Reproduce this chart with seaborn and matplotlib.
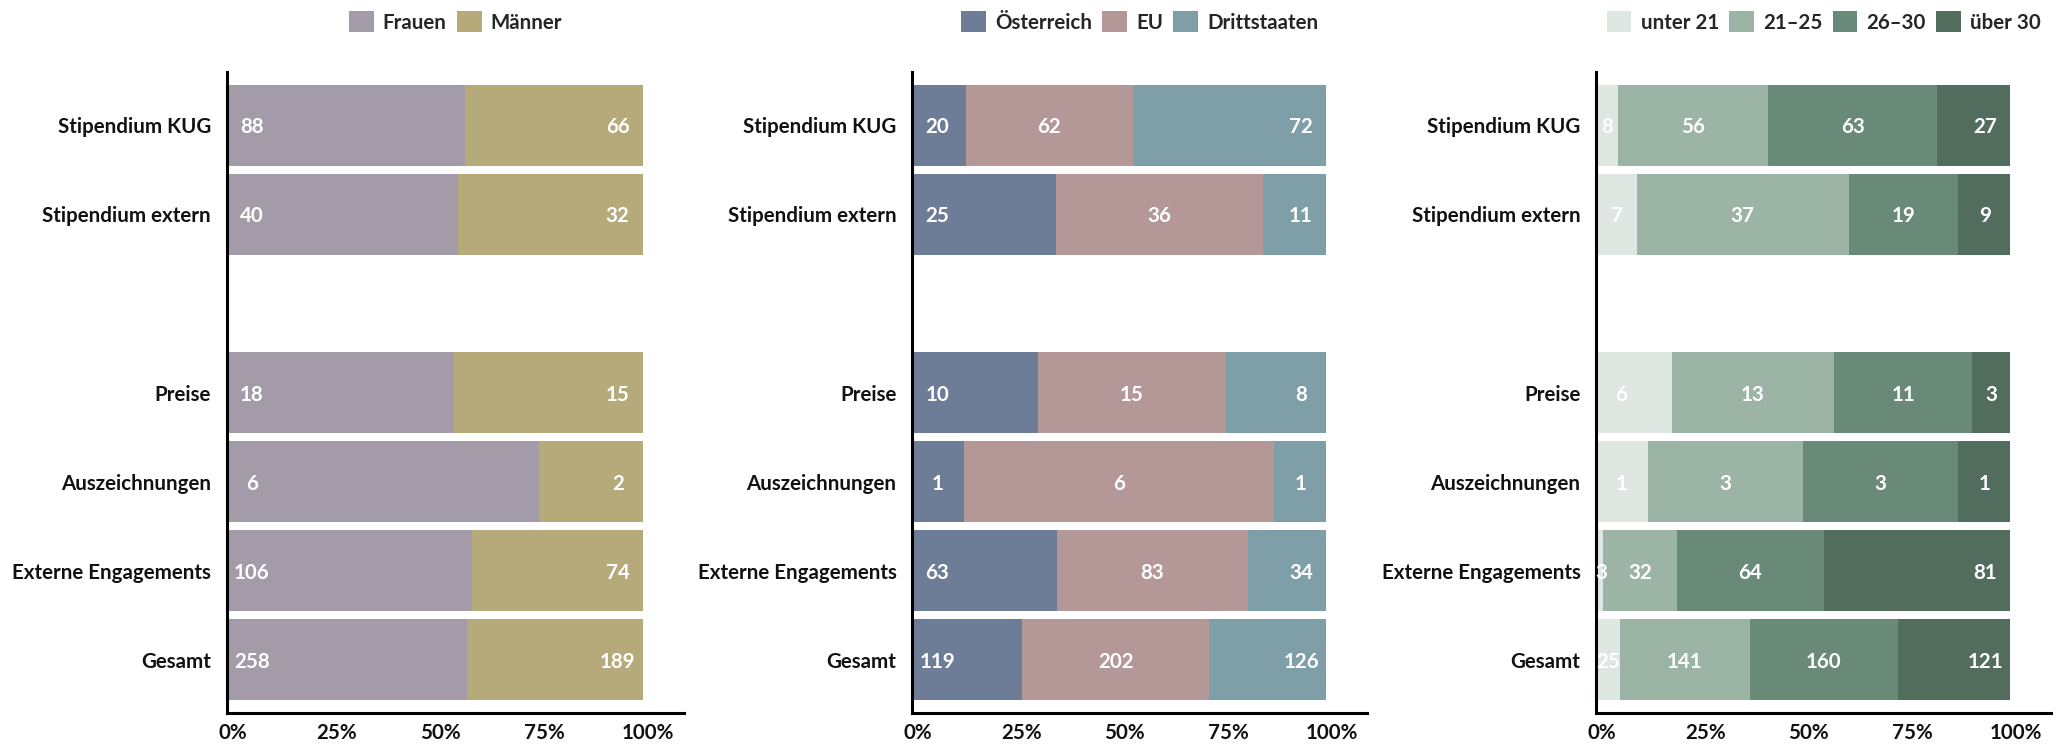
import numpy as np
import pandas as pd
import matplotlib
matplotlib.use("Agg")
import matplotlib.pyplot as plt
import seaborn as sns
from matplotlib.patches import Patch
from matplotlib.transforms import ScaledTranslation

# ---------------- data ----------------
categories = ["Stipendium KUG", "Stipendium extern", "Preise", "Auszeichnungen",
              "Externe Engagements", "Gesamt"]
row_order = ["Stipendium KUG", "Stipendium extern", " ", "Preise", "Auszeichnungen",
             "Externe Engagements", "Gesamt"]

gender_labels = ["Frauen", "Männer"]
frauen = [88, 40, 18, 6, 106, 258]
maenner = [66, 32, 15, 2, 74, 189]

origin_labels = ["Österreich", "EU", "Drittstaaten"]
oesterreich = [20, 25, 10, 1, 63, 119]
eu = [62, 36, 15, 6, 83, 202]
drittstaaten = [72, 11, 8, 1, 34, 126]

age_labels = ["unter 21", "21–25", "26–30", "über 30"]
unter21 = [8, 7, 6, 1, 3, 25]
a21_25 = [56, 37, 13, 3, 32, 141]
a26_30 = [63, 19, 11, 3, 64, 160]
ueber30 = [27, 9, 3, 1, 81, 121]

tick_vals = [0, 0.25, 0.5, 0.75, 1.0]
tick_labels = ["0%", "25%", "50%", "75%", "100%"]

gender_colors = ["#a39ca8", "#b6aa7b"]
origin_colors = ["#6d7c97", "#b49797", "#7f9fa8"]
age_colors = ["#dee7e2", "#9cb4a6", "#698a79", "#526c5e"]

# ---------------- style ----------------
sns.set_theme(style="white")
plt.rcParams["font.family"] = ["Lato", "DejaVu Sans"]
FS = 14.8
WEIGHT = "bold"

fig = plt.figure(figsize=(20.69, 7.46), dpi=100)

lefts = [0.1097, 0.4410, 0.7716]
widths = [0.2210, 0.2198, 0.2198]
B = 0.0442
H = 0.8593


def draw_panel(left, width, series, labels, colors):
    ax = fig.add_axes([left, B, width, H])
    counts = np.array(series, dtype=float)
    totals = counts.sum(axis=0)
    shares = counts / totals
    ends = np.cumsum(shares, axis=0)
    starts = ends - shares
    k = len(series)
    for i in range(k - 1, -1, -1):
        df = pd.DataFrame({"cat": categories, "end": ends[i]})
        sns.barplot(data=df, x="end", y="cat", order=row_order, orient="h",
                    color=colors[i], saturation=1, errorbar=None, width=0.91,
                    linewidth=0, ax=ax)
    off = 0.06
    for j, cat in enumerate(categories):
        ypos = row_order.index(cat)
        for i in range(k):
            s, e, v = starts[i, j], ends[i, j], counts[i, j]
            c = (s + e) / 2
            if i == 0:
                x = max(min(s + off, c), s + 0.012)
            elif i == k - 1:
                x = min(max(e - off, c), e - 0.012)
            else:
                x = c
            ax.text(x, ypos, f"{int(v)}", ha="center", va="center_baseline",
                    color="white", fontsize=FS, fontweight=WEIGHT)

    ax.set_xlim(0, 1.1)
    ax.set_ylim(6.6, -0.6)
    ax.set_xticks(tick_vals, tick_labels)
    ax.set_xlabel("")
    ax.set_ylabel("")
    for sp in ["top", "right"]:
        ax.spines[sp].set_visible(False)
    for sp in ["left", "bottom"]:
        ax.spines[sp].set_color("black")
        ax.spines[sp].set_linewidth(2.2)
    ax.tick_params(axis="y", length=0, pad=11.5, labelsize=FS, labelcolor="#111111")
    ax.tick_params(axis="x", length=0, pad=7, labelsize=FS, labelcolor="#111111")
    for t in ax.get_yticklabels() + ax.get_xticklabels():
        t.set_fontweight(WEIGHT)
    for t in ax.get_xticklabels():
        t.set_transform(t.get_transform() + ScaledTranslation(4 / 72, 0, fig.dpi_scale_trans))

    handles = [Patch(facecolor=c, edgecolor="none", label=l) for c, l in zip(colors, labels)]
    leg = ax.legend(handles=handles, loc="center", bbox_to_anchor=(0.5, 1.078),
                    ncol=len(labels), frameon=False, fontsize=FS,
                    handlelength=1.2, handleheight=1.2, handletextpad=0.45,
                    columnspacing=0.5, borderaxespad=0)
    for t in leg.get_texts():
        t.set_fontweight(WEIGHT)
    return ax


draw_panel(lefts[0], widths[0], [frauen, maenner], gender_labels, gender_colors)
draw_panel(lefts[1], widths[1], [oesterreich, eu, drittstaaten], origin_labels, origin_colors)
draw_panel(lefts[2], widths[2], [unter21, a21_25, a26_30, ueber30], age_labels, age_colors)

fig.savefig("out.png", dpi=100)
